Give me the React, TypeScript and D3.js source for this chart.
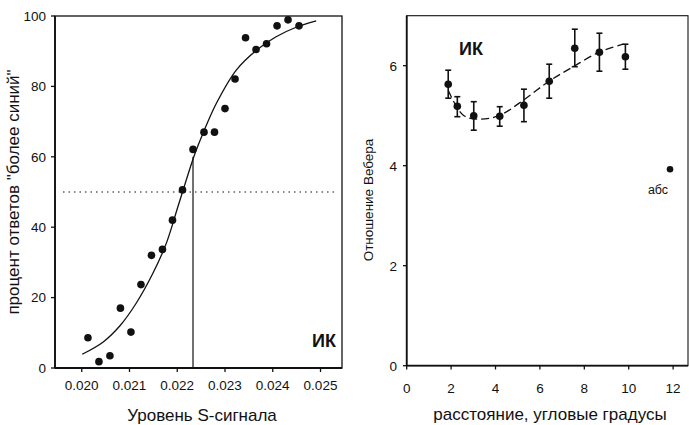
import React from 'react';
import * as d3 from 'd3';

// left panel: psychometric data
const levelX = [0.02013, 0.02036, 0.02059, 0.02081, 0.02103, 0.02124, 0.02146, 0.02169, 0.0219, 0.02211,
  0.02233, 0.02256, 0.02278, 0.023, 0.02321, 0.02343, 0.02365, 0.02387, 0.02409, 0.02432, 0.02455];
const percentY = [8.6, 1.8, 3.5, 17, 10.2, 23.7, 32, 33.7, 42, 50.6,
  62.1, 67, 67, 73.7, 82.1, 93.8, 90.5, 92.1, 97.2, 98.9, 97.2];
const fitX = [0.02001, 0.02045, 0.0208, 0.02114, 0.02149, 0.02177, 0.02203, 0.02236, 0.02254, 0.02282,
  0.02324, 0.02366, 0.02407, 0.02449, 0.02491];
const fitY = [3.9, 7.4, 12, 18.4, 26.9, 35.4, 46.5, 60.5, 66.7, 75.2, 84.7, 90.3, 94.1, 96.8, 98.6];
const thresholdX = 0.02233;
const leftXTicks = [0.020, 0.021, 0.022, 0.023, 0.024, 0.025];
const leftYTicks = [0, 20, 40, 60, 80, 100];

// right panel: Weber ratio vs eccentricity
const distX = [1.87, 2.28, 3.02, 4.19, 5.28, 6.42, 7.57, 8.68, 9.85];
const weberY = [5.63, 5.19, 5.0, 4.99, 5.21, 5.69, 6.35, 6.27, 6.18];
const errHi = [5.91, 5.38, 5.28, 5.18, 5.53, 6.03, 6.73, 6.65, 6.43];
const errLo = [5.35, 4.98, 4.71, 4.79, 4.88, 5.35, 5.98, 5.89, 5.93];
const dashX = [1.87, 2.55, 3.3, 4.2, 5.25, 6.38, 7.5, 8.71, 9.76];
const dashY = [5.51, 5.01, 4.93, 5.01, 5.31, 5.68, 5.98, 6.28, 6.43];
const absPoint = { x: 11.86, y: 3.93 };
const rightXTicks = [0, 2, 4, 6, 8, 10, 12];
const rightYTicks = [0, 2, 4, 6];

const font = '"Liberation Sans", Arial, sans-serif';
const ink = '#111';

export default function App() {
  // left panel scales
  const lx = d3.scaleLinear().domain([0.01944, 0.02545]).range([55, 342]);
  const ly = d3.scaleLinear().domain([0, 100]).range([368, 16]);
  // right panel scales
  const rx = d3.scaleLinear().domain([0, 12.67]).range([406.7, 688]);
  const ry = d3.scaleLinear().domain([0, 7]).range([365.7, 15.7]);

  const fitLine = d3.line<number>()
    .x((d, i) => lx(fitX[i]))
    .y(d => ly(d))
    .curve(d3.curveCatmullRom.alpha(0.5));
  const dashLine = d3.line<number>()
    .x((d, i) => rx(dashX[i]))
    .y(d => ry(d))
    .curve(d3.curveCatmullRom.alpha(0.5));

  return (
    <svg width={689} height={425} style={{ position: 'absolute', left: 0, top: 0, background: '#fff' }}
      fontFamily={font} fill={ink}>
      {/* ---- left panel ---- */}
      <rect x={55} y={16} width={287} height={352} fill="none" stroke={ink} strokeWidth={1.3} />
      <line x1={55} x2={55} y1={16} y2={368} stroke={ink} strokeWidth={1.8} />
      <line x1={55} x2={342} y1={368} y2={368} stroke={ink} strokeWidth={1.8} />
      {leftYTicks.map(t => (
        <g key={t}>
          <line x1={51} x2={55} y1={ly(t)} y2={ly(t)} stroke={ink} strokeWidth={1.3} />
          <text x={46} y={ly(t)} dy="0.36em" textAnchor="end" fontSize={13.5}>{t}</text>
        </g>
      ))}
      {leftXTicks.map(t => (
        <g key={t}>
          <line x1={lx(t)} x2={lx(t)} y1={368} y2={372} stroke={ink} strokeWidth={1.3} />
          <text x={lx(t)} y={390} textAnchor="middle" fontSize={13.5}>{d3.format('.3f')(t)}</text>
        </g>
      ))}
      <line x1={63} x2={338} y1={ly(50)} y2={ly(50)} stroke={ink} strokeWidth={1.2} strokeDasharray="1.5,4" />
      <line x1={lx(thresholdX)} x2={lx(thresholdX)} y1={368} y2={ly(60)} stroke={ink} strokeWidth={1.2} />
      <path d={fitLine(fitY) ?? ''} fill="none" stroke={ink} strokeWidth={1.3} />
      {levelX.map((x, i) => (
        <circle key={i} cx={lx(x)} cy={ly(percentY[i])} r={3.8} fill={ink} />
      ))}
      <text x={324} y={347} textAnchor="middle" fontSize={18} fontWeight="bold">ИК</text>
      <text transform={`translate(19,192) rotate(-90)`} textAnchor="middle" fontSize={17}>
        процент ответов "более синий"
      </text>
      <text x={202} y={421} textAnchor="middle" fontSize={17}>Уровень S-сигнала</text>

      {/* ---- right panel ---- */}
      <rect x={406.7} y={15.7} width={281.3} height={350} fill="none" stroke={ink} strokeWidth={1.1} />
      <line x1={406.7} x2={406.7} y1={15.7} y2={365.7} stroke={ink} strokeWidth={1.8} />
      <line x1={406.7} x2={688} y1={365.7} y2={365.7} stroke={ink} strokeWidth={1.8} />
      {rightYTicks.map(t => (
        <g key={t}>
          <line x1={403} x2={406.7} y1={ry(t)} y2={ry(t)} stroke={ink} strokeWidth={1.3} />
          <text x={397} y={ry(t)} dy="0.36em" textAnchor="end" fontSize={13.5}>{t}</text>
        </g>
      ))}
      {rightXTicks.map(t => (
        <g key={t}>
          <line x1={rx(t)} x2={rx(t)} y1={365.7} y2={369.5} stroke={ink} strokeWidth={1.3} />
          <text x={rx(t)} y={393} textAnchor="middle" fontSize={13.5}>{t}</text>
        </g>
      ))}
      <path d={dashLine(dashY) ?? ''} fill="none" stroke={ink} strokeWidth={1.3} strokeDasharray="8,4" />
      {distX.map((x, i) => (
        <g key={i}>
          <line x1={rx(x)} x2={rx(x)} y1={ry(errLo[i])} y2={ry(errHi[i])} stroke={ink} strokeWidth={1.6} />
          <line x1={rx(x) - 3} x2={rx(x) + 3} y1={ry(errLo[i])} y2={ry(errLo[i])} stroke={ink} strokeWidth={1.6} />
          <line x1={rx(x) - 3} x2={rx(x) + 3} y1={ry(errHi[i])} y2={ry(errHi[i])} stroke={ink} strokeWidth={1.6} />
          <circle cx={rx(x)} cy={ry(weberY[i])} r={3.8} fill={ink} />
        </g>
      ))}
      <circle cx={rx(absPoint.x)} cy={ry(absPoint.y)} r={3.3} fill={ink} />
      <text x={658} y={194} textAnchor="middle" fontSize={12.5}>абс</text>
      <text x={471} y={55} textAnchor="middle" fontSize={18} fontWeight="bold">ИК</text>
      <text transform={`translate(373,200) rotate(-90)`} textAnchor="middle" fontSize={13.5}>
        Отношение Вебера
      </text>
      <text x={550} y={420} textAnchor="middle" fontSize={17}>расстояние, угловые градусы</text>
    </svg>
  );
}
